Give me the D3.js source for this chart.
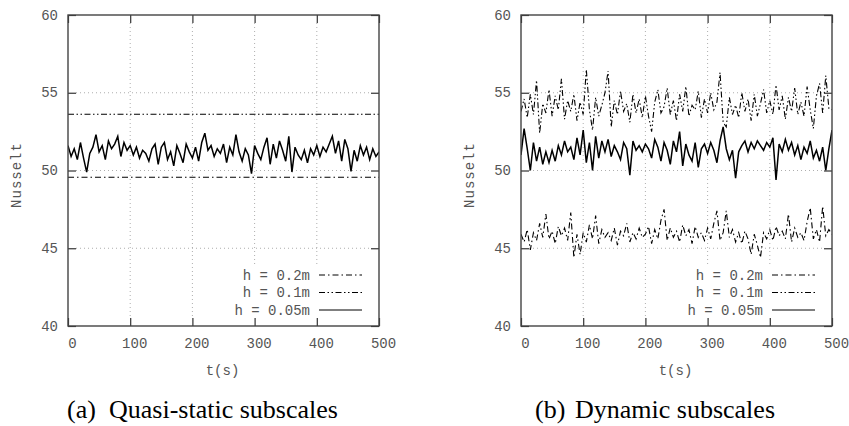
<!DOCTYPE html>
<html>
<head>
    <meta charset="utf-8" />
    <title>Nusselt vs t</title>
    <script src="https://d3js.org/d3.v7.min.js"></script>
    <style>
        body { margin: 0; background: #fff; }
        .tick text, .lbl, .legend text { font-family: "Liberation Mono", "DejaVu Sans Mono", monospace; font-size: 14px; fill: #555; }
        .caption { font-family: "Liberation Serif", "Times New Roman", serif; font-size: 26px; fill: #000; }
        .grid line { stroke: #999; stroke-width: 0.8; stroke-dasharray: 1,3; }
    </style>
</head>
<body>
    <div id="the-chart"></div>
    <script>
        var xTicks = [0, 100, 200, 300, 400, 500],
            yTicks = [40, 45, 50, 55, 60];

        var labels = ["h = 0.2m", "h = 0.1m", "h = 0.05m"];

        // sampled every 5 s, t = 0 .. 500
        var leftSolid = [
            51.6, 50.9, 51.4, 50.7, 51.8, 50.8, 49.9, 51.1, 51.5, 52.3,
            51.2, 51.6, 50.7, 51.9, 51.4, 51.7, 52.2, 50.9, 51.8, 51.3,
            51.6, 51.0, 51.5, 50.8, 51.3, 51.1, 50.6, 51.4, 51.7, 50.4,
            51.5, 51.8, 50.7, 51.2, 50.3, 51.6, 51.1, 50.5, 51.7, 51.2,
            50.8, 51.5, 50.6, 51.8, 52.4, 51.3, 51.6, 50.9, 51.4, 51.1,
            51.7, 50.5, 51.5, 51.0, 52.3, 51.2, 50.6, 51.4, 51.0, 49.8,
            51.6, 51.1, 50.7, 51.5, 52.1, 50.4, 51.7, 50.8, 51.9, 51.3,
            50.6, 52.2, 49.9, 51.5, 51.0, 50.7, 51.3, 50.5, 51.4, 51.0,
            51.6, 50.9, 51.5, 51.2, 51.7, 52.2, 51.1, 51.9, 50.6, 52.0,
            51.4, 49.95, 51.3, 50.6, 51.6, 51.0, 51.5, 50.7, 51.4, 50.9, 51.2
        ];
        var leftH02 = [49.57, 49.57],
            leftH01 = [53.62, 53.62];

        var rightSolid = [
            51.0, 52.7, 51.4, 50.0, 51.8, 50.6, 51.5, 50.4, 51.2, 50.5,
            51.3, 50.6, 51.6, 51.0, 51.9, 51.2, 51.5, 50.7, 52.1, 51.0,
            52.6, 50.5, 51.8, 50.0, 52.2, 50.8, 51.9, 51.2, 52.0, 50.9,
            51.6, 51.2, 50.7, 51.8, 51.4, 49.7, 51.9, 51.3, 51.6, 51.2,
            51.7, 51.4, 50.8, 52.0, 51.5, 50.6, 51.8, 51.3, 50.4, 51.9,
            51.2, 52.5, 50.3, 51.7, 51.0, 50.6, 51.8, 50.2, 51.4, 51.7,
            51.1, 51.8, 51.3, 50.5, 51.9, 52.8, 51.4, 50.7, 51.3, 49.5,
            51.2, 51.6, 51.9, 51.2, 51.8, 51.4, 51.9, 51.6, 51.3, 51.8,
            51.5, 52.1, 49.4, 51.7, 51.2, 52.0, 51.3, 51.8, 51.0, 51.6,
            50.7, 51.5, 51.1, 51.9, 50.8, 51.3, 50.6, 51.5, 50.0, 51.4, 52.6
        ];
        var rightH01 = [
            53.8, 54.6, 53.4, 54.9, 53.6, 55.8, 52.4, 54.3, 53.7, 55.2,
            53.5, 54.8, 53.9, 55.9, 53.3, 54.5, 53.8, 54.9, 53.2, 54.4,
            53.6, 56.5, 53.9, 52.6, 54.7, 53.5, 54.2, 55.0, 56.4, 52.8,
            54.5, 53.6, 55.1, 53.8, 54.3, 53.1, 54.9, 53.7, 54.6, 53.4,
            54.8, 53.5, 52.5, 54.4, 55.2, 53.7, 54.1, 55.3, 53.6, 54.5,
            53.2, 54.9, 53.8, 55.4, 53.5, 54.2, 53.9, 55.1, 53.4, 54.6,
            53.7, 55.0, 53.9, 54.4, 56.3, 53.1, 52.8, 54.7, 53.6, 54.2,
            53.4, 55.0, 53.8, 54.6, 53.2, 54.9, 53.5, 54.3, 55.2, 53.7,
            54.5, 53.6, 55.5, 53.9, 54.8, 53.3, 54.7, 53.8, 55.3, 53.6,
            54.4, 53.5, 55.4, 53.9, 52.7, 54.8, 55.6, 53.7, 56.1, 54.0, 53.9
        ];
        var rightH02 = [
            45.9, 45.4, 46.2, 44.9, 46.0, 45.5, 46.6, 45.7, 47.2, 45.6,
            46.1, 45.3, 46.4, 45.8, 46.3, 45.5, 47.3, 44.4, 45.9, 44.6,
            46.0, 45.4, 46.5, 45.6, 47.1, 45.3, 46.2, 45.7, 46.0, 45.5,
            46.3, 45.2, 46.1, 45.8, 46.6, 45.4, 46.0, 45.6, 46.3, 45.7,
            45.9, 46.4, 45.3, 46.2, 45.6, 46.8, 47.5, 45.5, 46.3, 45.7,
            46.1, 45.4, 46.5, 45.8, 46.2, 45.3, 46.4, 45.7, 46.0, 45.5,
            46.3, 45.6, 46.6, 47.4, 45.5, 46.0, 47.4, 45.7, 46.2, 45.4,
            46.0, 45.3, 46.1, 45.6, 44.6, 45.9, 45.2, 44.4, 46.0, 45.6,
            46.2, 45.5, 46.4, 45.8, 46.1, 45.6, 47.2, 45.4, 46.3, 45.7,
            46.0, 45.5, 46.7, 47.6, 45.6, 46.2, 45.4, 47.7, 45.8, 46.2, 45.9
        ];

        var dashes = ["6,3,1.5,3", "6,2.5,1.5,2.5,1.5,2.5", null];

        var svg = d3.select("#the-chart").append("svg")
            .attr("width", 849)
            .attr("height", 426);

        var plotTop = 15, plotBottom = 326, pw = 311, tick = 8;

        var y = d3.scaleLinear().domain([40, 60]).range([plotBottom, plotTop]);

        function panel(left, series, tag, tagX, caption, capX, id) {
            var x = d3.scaleLinear().domain([0, 500]).range([left, left + pw]);
            var g = svg.append("g");

            g.append("clipPath").attr("id", id)
                .append("rect")
                .attr("x", left).attr("y", plotTop).attr("width", pw).attr("height", plotBottom - plotTop);

            var grid = g.append("g").attr("class", "grid");
            grid.selectAll("line.gx").data(xTicks.slice(1, -1)).enter()
                .append("line")
                .attr("x1", function (d) { return x(d); }).attr("x2", function (d) { return x(d); })
                .attr("y1", plotTop + tick).attr("y2", plotBottom - tick);
            grid.selectAll("line.gy").data(yTicks.slice(1, -1)).enter()
                .append("line")
                .attr("y1", function (d) { return y(d); }).attr("y2", function (d) { return y(d); })
                .attr("x1", left + tick).attr("x2", left + pw - tick);

            // opaque legend box
            g.append("rect")
                .attr("x", left + 158).attr("y", plotBottom - 60)
                .attr("width", pw - 158 - tick).attr("height", 60 - tick)
                .attr("fill", "#fff");

            var line = d3.line()
                .x(function (d) { return x(d[0]); })
                .y(function (d) { return y(d[1]); });

            series.forEach(function (s) {
                var step = 500 / (s.values.length - 1);
                var pts = s.values.map(function (v, i) { return [i * step, v]; });
                g.append("path")
                    .attr("clip-path", "url(#" + id + ")")
                    .attr("d", line(pts))
                    .attr("fill", "none")
                    .attr("stroke", "#000")
                    .attr("stroke-width", s.k == 2 ? 1.5 : 1.1)
                    .attr("stroke-dasharray", dashes[s.k]);
            });

            g.append("g")
                .attr("transform", "translate(0," + plotBottom + ")")
                .call(d3.axisBottom(x).tickValues(xTicks).tickSize(-tick).tickSizeOuter(0))
                .selectAll("text")
                .attr("y", 17).attr("dy", "0.35em").attr("dx", 4);

            g.append("g")
                .attr("transform", "translate(0," + plotTop + ")")
                .call(d3.axisTop(x).tickValues(xTicks).tickSize(-tick).tickSizeOuter(0).tickFormat(""));

            g.append("g")
                .attr("transform", "translate(" + left + ",0)")
                .call(d3.axisLeft(y).tickValues(yTicks).tickSize(-tick).tickSizeOuter(0))
                .selectAll("text")
                .attr("x", -10).attr("dy", "0.3em");

            g.append("g")
                .attr("transform", "translate(" + (left + pw) + ",0)")
                .call(d3.axisRight(y).tickValues(yTicks).tickSize(-tick).tickSizeOuter(0).tickFormat(""));

            g.selectAll(".domain").remove();
            g.selectAll(".tick line").attr("stroke", "#333").attr("stroke-width", 1.2);

            g.append("rect")
                .attr("x", left).attr("y", plotTop).attr("width", pw).attr("height", plotBottom - plotTop)
                .attr("fill", "none").attr("stroke", "#444").attr("stroke-width", 1.4);

            var lg = g.append("g").attr("class", "legend");
            labels.forEach(function (t, i) {
                var ly = plotBottom - 51 + i * 17.5;
                lg.append("text")
                    .attr("x", left + 242).attr("y", ly).attr("dy", "0.35em")
                    .attr("text-anchor", "end")
                    .text(t);
                lg.append("line")
                    .attr("x1", left + 251).attr("x2", left + 294)
                    .attr("y1", ly).attr("y2", ly)
                    .attr("stroke", "#000").attr("stroke-width", 1)
                    .attr("stroke-dasharray", dashes[i]);
            });

            g.append("text").attr("class", "lbl")
                .attr("x", left + pw / 2 - 1).attr("y", 370).attr("dy", "0.35em")
                .attr("text-anchor", "middle")
                .text("t(s)");

            g.append("text").attr("class", "lbl")
                .attr("transform", "translate(" + (left - 52) + ",175) rotate(-90)")
                .attr("dy", "0.35em")
                .attr("text-anchor", "middle")
                .style("letter-spacing", "1px")
                .text("Nusselt");

            var cap = g.append("text").attr("class", "caption").attr("y", 418);
            cap.append("tspan").attr("x", tagX).text(tag);
            cap.append("tspan").attr("x", capX).text(caption);
        }

        panel(68, [
            { k: 0, values: leftH02 },
            { k: 1, values: leftH01 },
            { k: 2, values: leftSolid }
        ], "(a)", 67, "Quasi-static subscales", 109, "clipA");

        panel(521, [
            { k: 0, values: rightH02 },
            { k: 1, values: rightH01 },
            { k: 2, values: rightSolid }
        ], "(b)", 535, "Dynamic subscales", 575, "clipB");
    </script>
</body>
</html>
